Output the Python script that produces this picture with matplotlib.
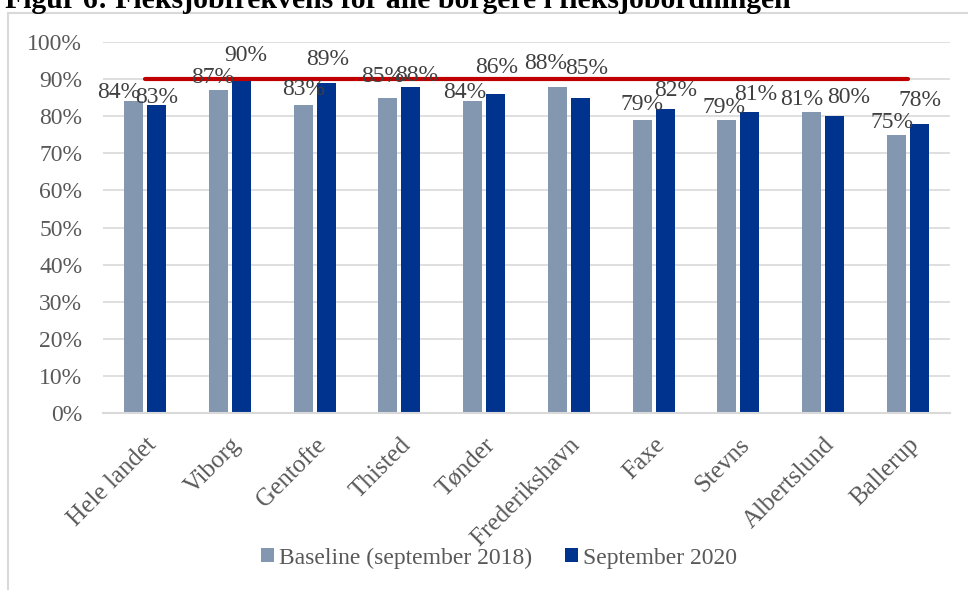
import matplotlib
matplotlib.use("Agg")
import matplotlib.pyplot as plt
from matplotlib.patches import Rectangle
from matplotlib.ticker import MultipleLocator, FuncFormatter
from matplotlib.transforms import offset_copy
import numpy as np

plt.rcParams['font.family'] = ['Liberation Serif', 'DejaVu Serif']

title = "Figur 6: Fleksjobfrekvens for alle borgere i fleksjobordningen"
categories = ["Hele landet", "Viborg", "Gentofte", "Thisted", "Tønder",
              "Frederikshavn", "Faxe", "Stevns", "Albertslund", "Ballerup"]
baseline = [84, 87, 83, 85, 84, 88, 79, 79, 81, 75]
sept2020 = [83, 90, 89, 88, 86, 85, 82, 81, 80, 78]
target = [90] * len(categories)
series_names = ["Baseline (september 2018)", "September 2020"]

# manual data-label nudges (pixels), as placed in the original chart
base_dx = [-15, -6, 0, -5, -8, -12, 0, -3, -10, -4]
base_dy = [1, 5, 8, 14, 1, 16, 8, 5, 5, 5]
sept_dx = [0, 4, 1, 6, 1, 6, 11, 6, 14, 1]
sept_dy = [0, 16, 16, 4, 19, 22, 11, 10, 11, 16]

W, H = 968, 590
fig = plt.figure(figsize=(W / 100, H / 100), dpi=100)

# chart frame
fig.patches.append(Rectangle((8 / W, -0.05), 1.2, 1 - 13 / H + 0.05,
                             transform=fig.transFigure, facecolor='white',
                             edgecolor='#D9D9D9', linewidth=1.5, zorder=0))

fig.text(5 / W, 1 - 8 / H, title, fontsize=21.4, fontweight='bold',
         ha='left', va='baseline', color='black')

ax = fig.add_axes([103 / W, 1 - 413 / H, 847 / W, 371 / H])
ax.set_facecolor('none')
ax.set_zorder(2)

x = np.arange(len(categories))
bw = 0.225
off = 0.136
c_base = '#8497B0'
c_sept = '#00338D'
b1 = ax.bar(x - off, baseline, bw, color=c_base, label=series_names[0], zorder=2)
b2 = ax.bar(x + off, sept2020, bw, color=c_sept, label=series_names[1], zorder=2)
ax.plot(x, target, color='#C00000', lw=3, zorder=3, solid_capstyle='round')

lab_color = '#404040'
for rects, vals, dxs, dys in ((b1, baseline, base_dx, base_dy),
                              (b2, sept2020, sept_dx, sept_dy)):
    for r, v, dx, dy in zip(rects, vals, dxs, dys):
        tr = offset_copy(ax.transData, fig=fig, x=dx, y=dy + 2, units='dots')
        ax.text(r.get_x() + r.get_width() / 2, v, f"{v}%", transform=tr,
                ha='center', va='baseline', fontsize=17, color=lab_color, zorder=4)

ax.set_xlim(-0.5, len(categories) - 0.5)
ax.set_ylim(0, 100)
ax.yaxis.set_major_locator(MultipleLocator(10))
ax.yaxis.set_major_formatter(FuncFormatter(lambda v, p: f"{int(v)}%"))
ax.grid(axis='y', color='#D9D9D9', lw=1.2, zorder=0)
ax.set_axisbelow(True)
for s in ['top', 'right', 'left']:
    ax.spines[s].set_visible(False)
ax.spines['bottom'].set_color('#D9D9D9')
ax.spines['bottom'].set_linewidth(1.5)
ax.tick_params(axis='both', length=0, labelsize=17, colors='#595959')
ax.tick_params(axis='y', pad=15)
ax.set_xticks(x)
ax.set_xticklabels(categories, rotation=45, ha='right', va='top',
                   rotation_mode='anchor', fontsize=18)
ax.tick_params(axis='x', pad=15)

leg = fig.legend(handles=[b1, b2], labels=series_names, loc='center',
                 bbox_to_anchor=(499 / W, 1 - 558 / H), ncol=2, frameon=False,
                 fontsize=17, handlelength=0.55, handleheight=0.55,
                 handletextpad=0.2, columnspacing=1.4, labelcolor='#595959')

fig.savefig("out.png", dpi=100)
